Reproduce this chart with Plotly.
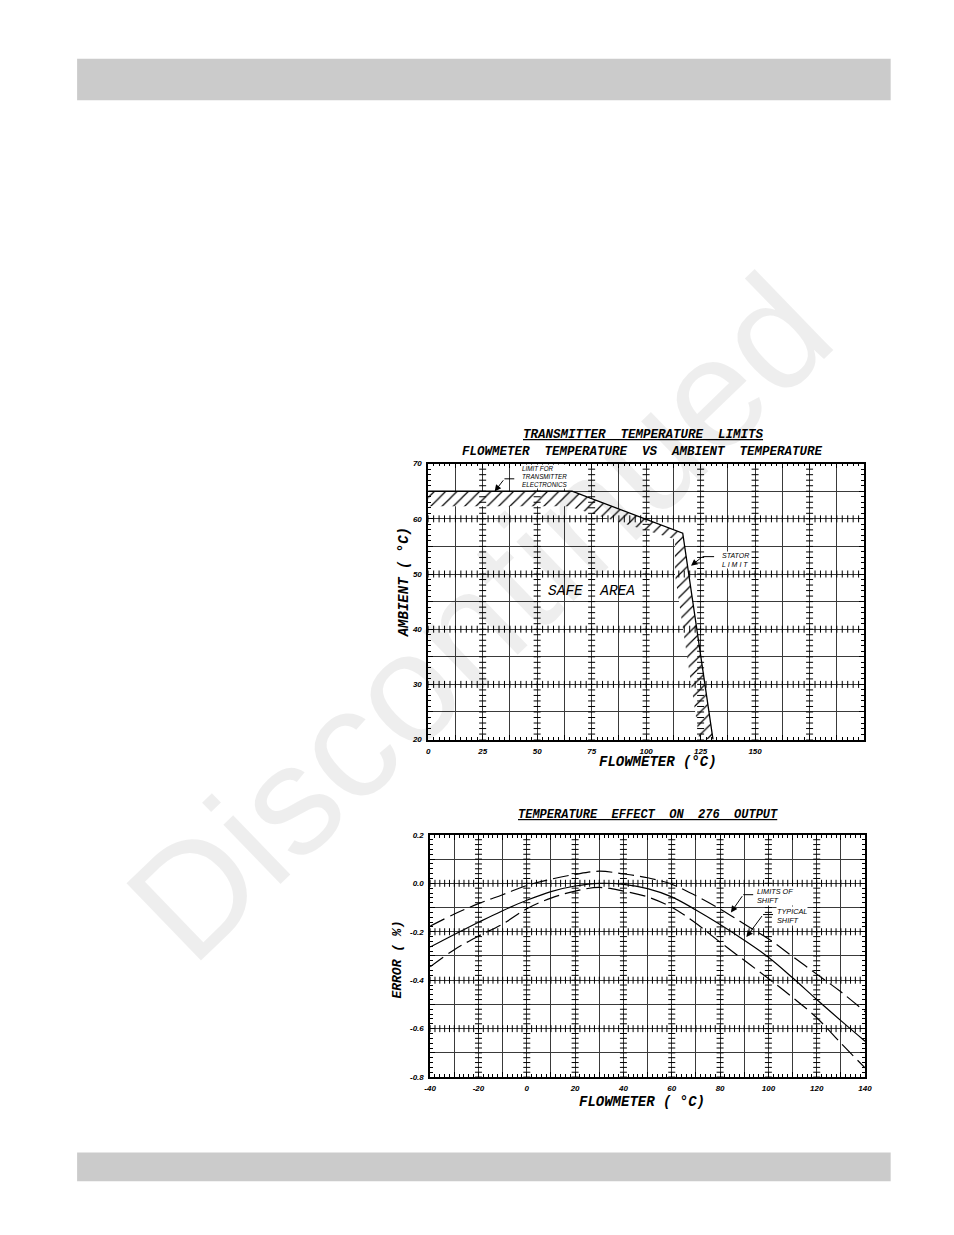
import numpy as np
import plotly.graph_objects as go

# target page is 954 x 1235 px; the html body keeps its default 8 px margin,
# so the figure is made 16 px smaller and page pixels are shifted by 8
PAGE_W, PAGE_H, OFF = 954, 1235, 8
W, H = PAGE_W - 2 * OFF, PAGE_H - 2 * OFF


def px(x):
    return (x - OFF) / W


def py(y):
    return 1 - (y - OFF) / H


# ---- chart 1: transmitter temperature limits ----
limit_flow = [0, 66, 116.8, 130.7]          # flowmeter temp (°C) along the limit line
limit_ambient = [65, 65, 57.4, 20]          # ambient temp (°C)
hatch_flow = [0, 66, 116.8, 130.7, 124.4, 113.2, 113.2, 64, 0]
hatch_ambient = [65, 65, 57.4, 20, 20, 50, 56.3, 62.3, 62.3]
top_x_labels = [0, 25, 50, 75, 100, 125, 150]
top_y_labels = [20, 30, 40, 50, 60, 70]

# ---- chart 2: temperature effect on 276 output ----
flow_temp = [-40, -30, -20, -10, 0, 10, 20, 30, 40, 50, 60, 70, 80, 90, 100, 110, 120, 130, 140]
typical_shift = [-0.263, -0.211, -0.161, -0.113, -0.07, -0.034, -0.011, 0.0, -0.004, -0.022,
                 -0.056, -0.11, -0.17, -0.235, -0.305, -0.39, -0.48, -0.567, -0.652]
upper_limit = [-0.177, -0.127, -0.084, -0.047, -0.009, 0.017, 0.037, 0.05, 0.039, 0.023,
               -0.004, -0.051, -0.106, -0.168, -0.229, -0.302, -0.375, -0.448, -0.53]
lower_limit = [-0.345, -0.274, -0.218, -0.168, -0.105, -0.061, -0.032, -0.017, -0.032, -0.056,
               -0.099, -0.165, -0.243, -0.318, -0.393, -0.471, -0.555, -0.66, -0.762]
bot_x_labels = [-40, -20, 0, 20, 40, 60, 80, 100, 120, 140]
bot_y_vals = [0.2, 0.0, -0.2, -0.4, -0.6, -0.8]
bot_y_text = ["0.2", "0.0", "-0.2", "-0.4", "-0.6", "-0.8"]

INK = "black"
GRID = "#3a3a3a"
tick_font = dict(family="Liberation Sans", size=8, color=INK, weight="bold", style="italic")
mono_bi = dict(family="Liberation Mono", color=INK, weight="bold", style="italic")
callout_font = dict(family="Liberation Sans", color=INK, style="italic")

fig = go.Figure()

# hatched band below the limit line
fig.add_trace(go.Scatter(
    x=hatch_flow, y=hatch_ambient, mode="lines", fill="toself",
    fillcolor="white", line=dict(width=0),
    fillpattern=dict(shape="/", fgcolor=INK, fgopacity=1, bgcolor="white", size=8, solidity=0.15),
    hoverinfo="skip", showlegend=False, xaxis="x", yaxis="y"))
fig.add_trace(go.Scatter(
    x=limit_flow, y=limit_ambient, mode="lines", line=dict(color=INK, width=1.3),
    hoverinfo="skip", showlegend=False, xaxis="x", yaxis="y"))

# graph paper tick marks along the heavy grid lines (chart 1)
hx, hy = np.meshgrid(np.arange(0, 200, 2.5), [30, 40, 50, 60])
fig.add_trace(go.Scatter(
    x=hx.ravel(), y=hy.ravel(), mode="markers",
    marker=dict(symbol="line-ns", size=5, line=dict(color=INK, width=1)),
    hoverinfo="skip", showlegend=False, xaxis="x", yaxis="y"))
vx, vy = np.meshgrid(np.arange(25, 200, 25), np.arange(20, 70, 1))
fig.add_trace(go.Scatter(
    x=vx.ravel(), y=vy.ravel(), mode="markers",
    marker=dict(symbol="line-ew", size=5, line=dict(color=INK, width=1)),
    hoverinfo="skip", showlegend=False, xaxis="x", yaxis="y"))

# graph paper tick marks (chart 2)
hx2, hy2 = np.meshgrid(np.arange(-40, 140, 2), [0.0, -0.2, -0.4, -0.6])
fig.add_trace(go.Scatter(
    x=hx2.ravel(), y=hy2.ravel(), mode="markers",
    marker=dict(symbol="line-ns", size=5, line=dict(color=INK, width=1)),
    hoverinfo="skip", showlegend=False, xaxis="x2", yaxis="y2"))
vx2, vy2 = np.meshgrid(np.arange(-20, 140, 20), np.arange(-0.8, 0.2, 0.02))
fig.add_trace(go.Scatter(
    x=vx2.ravel(), y=vy2.ravel(), mode="markers",
    marker=dict(symbol="line-ew", size=5, line=dict(color=INK, width=1)),
    hoverinfo="skip", showlegend=False, xaxis="x2", yaxis="y2"))

# error curves
for vals, dash in [(upper_limit, "16px,6px"), (typical_shift, "solid"), (lower_limit, "16px,6px")]:
    fig.add_trace(go.Scatter(
        x=flow_temp, y=vals, mode="lines", line=dict(color=INK, width=1.2, dash=dash, shape="spline"),
        hoverinfo="skip", showlegend=False, xaxis="x2", yaxis="y2"))


def grid_axis(domain, rng, step, labels, minor_step, anchor, fmt=str):
    vals = np.round(np.arange(rng[0], rng[1] + step / 2, step), 4)
    text = [fmt(v) if any(abs(v - l) < 1e-6 for l in labels) else "" for v in vals]
    return dict(
        domain=domain, range=rng, anchor=anchor,
        tickmode="array", tickvals=vals, ticktext=text,
        ticks="inside", ticklen=5, tickcolor=INK, tickwidth=1,
        minor=dict(tickmode="linear", tick0=rng[0], dtick=minor_step, ticks="inside",
                   ticklen=3, tickcolor=INK, tickwidth=1, showgrid=False),
        showgrid=True, gridcolor=GRID, gridwidth=1,
        showline=True, linecolor=INK, linewidth=1.5, mirror="allticks",
        zeroline=False, tickfont=tick_font, ticklabelstandoff=3, fixedrange=True)


xaxis = grid_axis([px(428), px(870)], [0, 200], 12.5, top_x_labels, 2.5, "y",
                  fmt=lambda v: str(int(v)))
yaxis = grid_axis([py(741), py(463)], [20, 70], 5, top_y_labels, 1, "x",
                  fmt=lambda v: str(int(v)))
xaxis2 = grid_axis([px(430), px(871)], [-40, 140], 10, bot_x_labels, 2, "y2",
                   fmt=lambda v: str(int(v)))
yaxis2 = grid_axis([py(1081), py(837)], [-0.8, 0.2], 0.1, bot_y_vals, 0.02, "x2",
                   fmt=lambda v: bot_y_text[[round(b, 1) for b in bot_y_vals].index(round(v, 1))])


def page_text(text, x, y, font, angle=0):
    return dict(text=text, x=px(x), y=py(y), xref="paper", yref="paper",
                xanchor="center", yanchor="middle", showarrow=False, textangle=angle, font=font)


def callout(text, x, y, size, xr, yr):
    return dict(text=text, x=x, y=y, xref=xr, yref=yr, xanchor="left", align="left",
                showarrow=False, bgcolor="white", borderpad=0, font=dict(size=size, **callout_font))


def arrow(x, y, ax, ay, xr, yr):
    return dict(text="", x=x, y=y, ax=ax, ay=ay, xref=xr, yref=yr, axref=xr, ayref=yr,
                showarrow=True, arrowhead=2, arrowsize=1.3, arrowwidth=1, arrowcolor=INK,
                standoff=0, startstandoff=0)


annotations = [
    # watermark
    page_text("Discontinued", 480, 618,
              dict(family="Liberation Sans", size=156, color="rgba(0,0,0,0.065)"), angle=-44),
    # chart 1 texts
    page_text("TRANSMITTER  TEMPERATURE  LIMITS", 646, 434, dict(size=12.5, lineposition="under", **mono_bi)),
    page_text("FLOWMETER  TEMPERATURE  VS  AMBIENT  TEMPERATURE", 645, 451, dict(size=12.5, **mono_bi)),
    page_text("FLOWMETER (°C)", 661, 764, dict(size=14, **mono_bi)),
    page_text("AMBIENT ( °C)", 403, 583, dict(size=14, **mono_bi), angle=-90),
    dict(text="SAFE  AREA", x=75, y=47.0, xref="x", yref="y", showarrow=False,
         font=dict(family="Liberation Mono", size=14.5, color=INK, style="italic")),
    callout("LIMIT FOR<br>TRANSMITTER<br>ELECTRONICS", 42.6, 67.66, 6.3, "x", "y"),
    arrow(30.5, 64.96, 35, 67.25, "x", "y"),
    callout("STATOR<br>L I M I T", 134.2, 52.5, 7, "x", "y"),
    arrow(120.6, 51.5, 125.9, 53.15, "x", "y"),
    # chart 2 texts
    page_text("TEMPERATURE  EFFECT  ON  276  OUTPUT", 651, 817, dict(size=12, lineposition="under", **mono_bi)),
    page_text("FLOWMETER ( °C)", 645, 1106, dict(size=14, **mono_bi)),
    page_text("ERROR ( %)", 397, 963, dict(size=13, **mono_bi), angle=-90),
    callout("LIMITS OF<br>SHIFT", 95.0, -0.054, 7.3, "x2", "y2"),
    arrow(84.5, -0.12, 89.6, -0.047, "x2", "y2"),
    callout("TYPICAL<br>SHIFT", 103.2, -0.135, 7.3, "x2", "y2"),
    arrow(90.9, -0.222, 97.8, -0.129, "x2", "y2"),
]

shapes = [
    # grey page bars
    dict(type="rect", xref="paper", yref="paper", x0=px(72), x1=px(897), y0=py(97), y1=py(55),
         fillcolor="#cbcbcb", line=dict(width=0), layer="below"),
    dict(type="rect", xref="paper", yref="paper", x0=px(72), x1=px(897), y0=py(1186), y1=py(1157),
         fillcolor="#cbcbcb", line=dict(width=0), layer="below"),
    # horizontal leader lines of the callouts
    dict(type="line", xref="x", yref="y", x0=35, x1=39.5, y0=67.25, y1=67.25, line=dict(color=INK, width=1)),
    dict(type="line", xref="x", yref="y", x0=125.9, x1=131.2, y0=53.15, y1=53.15, line=dict(color=INK, width=1)),
    dict(type="line", xref="x2", yref="y2", x0=89.6, x1=93.7, y0=-0.047, y1=-0.047, line=dict(color=INK, width=1)),
    dict(type="line", xref="x2", yref="y2", x0=97.8, x1=101.9, y0=-0.129, y1=-0.129, line=dict(color=INK, width=1)),
]

fig.update_layout(
    width=W, height=H, margin=dict(l=0, r=0, t=0, b=0),
    paper_bgcolor="white", plot_bgcolor="white",
    xaxis=xaxis, yaxis=yaxis, xaxis2=xaxis2, yaxis2=yaxis2,
    annotations=annotations, shapes=shapes, showlegend=False,
)

fig.write_html("out.html", config={"displayModeBar": False})
